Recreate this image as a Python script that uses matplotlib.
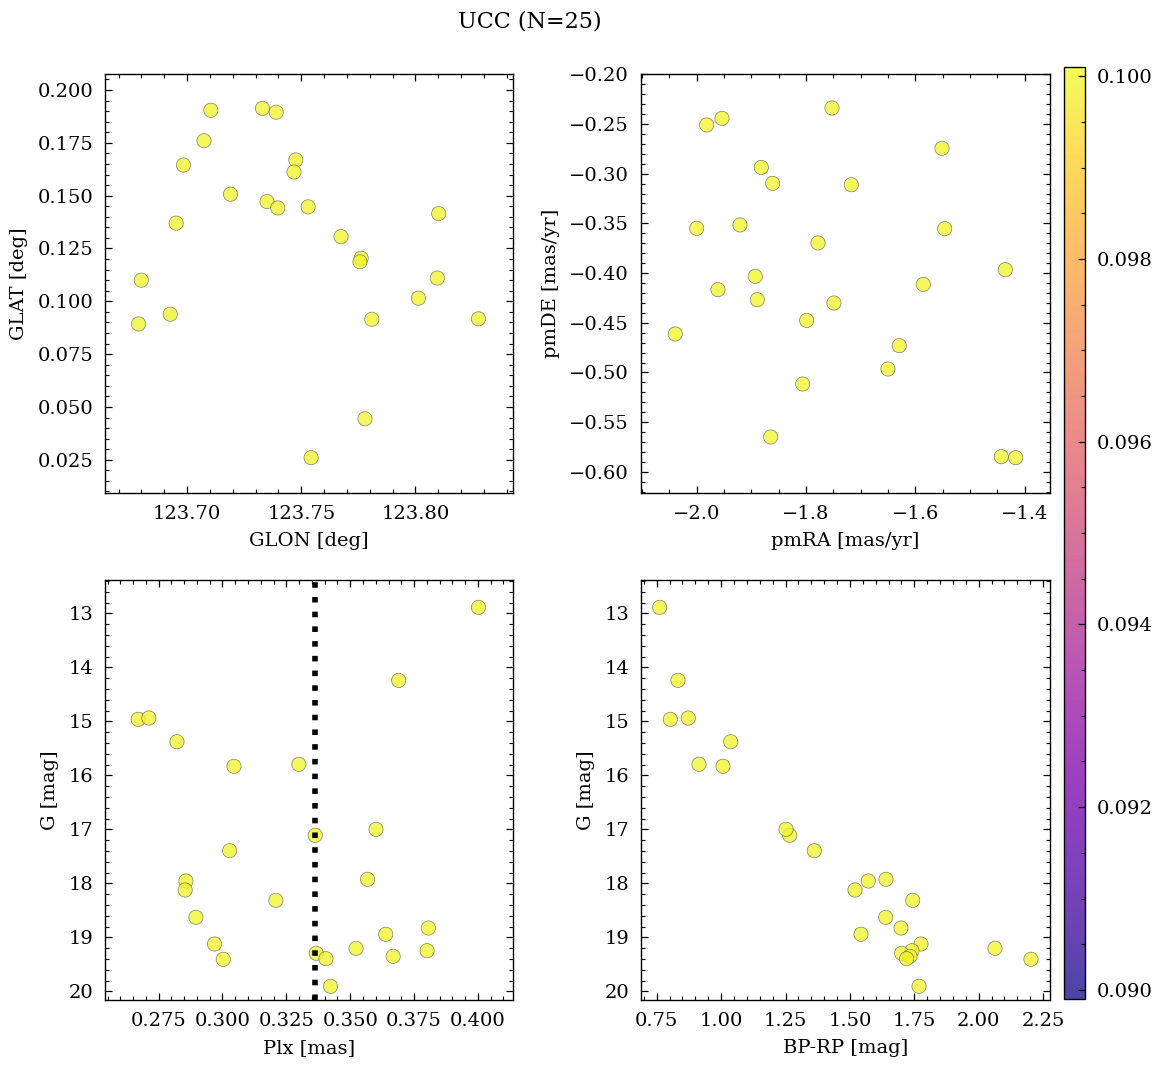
import numpy as np
import matplotlib.pyplot as plt
from matplotlib.ticker import MultipleLocator

# panel 1: galactic coordinates
glon = [123.7104, 123.7330, 123.7390, 123.7074, 123.6984, 123.7476, 123.7468,
        123.7190, 123.7350, 123.7397, 123.7530, 123.8102, 123.6952, 123.7674,
        123.7762, 123.7757, 123.6799, 123.8096, 123.8013, 123.6926, 123.6787,
        123.7809, 123.8276, 123.7779, 123.7543]
glat = [0.1904, 0.1913, 0.1895, 0.1760, 0.1645, 0.1669, 0.1612, 0.1507, 0.1472,
        0.1442, 0.1447, 0.1415, 0.1370, 0.1306, 0.1204, 0.1187, 0.1100, 0.1110,
        0.1015, 0.0939, 0.0893, 0.0915, 0.0917, 0.0444, 0.0260]

# panel 2: proper motions
pmra = [-1.7524, -1.9537, -1.9817, -1.5511, -1.8818, -1.8610, -1.7171, -2.0000,
        -1.9208, -1.5462, -1.7780, -1.4353, -1.5854, -1.8928, -1.9610, -1.8891,
        -1.7488, -1.7987, -2.0392, -1.6293, -1.6500, -1.8060, -1.8646, -1.4426,
        -1.4163]
pmde = [-0.2339, -0.2444, -0.2510, -0.2745, -0.2937, -0.3098, -0.3111, -0.3550,
        -0.3516, -0.3553, -0.3697, -0.3966, -0.4114, -0.4033, -0.4167, -0.4268,
        -0.4301, -0.4476, -0.4613, -0.4730, -0.4965, -0.5116, -0.5649, -0.5847,
        -0.5857]

# panels 3 and 4: photometry / parallax
gmag = [12.889, 14.241, 14.963, 14.939, 15.378, 15.833, 15.796, 17.111, 17.000,
        17.396, 17.926, 17.957, 18.124, 18.315, 18.630, 18.828, 18.944, 19.124,
        19.204, 19.248, 19.296, 19.352, 19.396, 19.407, 19.907]
plx = [0.4002, 0.3690, 0.2670, 0.2712, 0.2822, 0.3045, 0.3299, 0.3363, 0.3601,
       0.3028, 0.3568, 0.2857, 0.2854, 0.3209, 0.2896, 0.3806, 0.3639, 0.2969,
       0.3523, 0.3801, 0.3367, 0.3668, 0.3405, 0.3003, 0.3423]
bprp = [0.7616, 0.8327, 0.8028, 0.8727, 1.0373, 1.0074, 0.9142, 1.2663, 1.2520,
        1.3618, 1.6401, 1.5714, 1.5198, 1.7438, 1.6390, 1.6984, 1.5431, 1.7760,
        2.0633, 1.7410, 1.7010, 1.7333, 1.7200, 2.2030, 1.7683]

# membership probability (all the same)
prob = [0.1] * len(gmag)

plt.rcParams['font.family'] = 'DejaVu Serif'
plt.rcParams['font.size'] = 14
plt.rcParams['mathtext.fontset'] = 'dejavuserif'
for ax_ in ('xtick', 'ytick'):
    plt.rcParams[ax_ + '.direction'] = 'in'
    plt.rcParams[ax_ + '.minor.visible'] = True
    plt.rcParams[ax_ + '.major.size'] = 5
    plt.rcParams[ax_ + '.minor.size'] = 2.8
    plt.rcParams[ax_ + '.major.width'] = 0.9
    plt.rcParams[ax_ + '.minor.width'] = 0.8
    plt.rcParams[ax_ + '.major.pad'] = 8.5
plt.rcParams['xtick.top'] = True
plt.rcParams['ytick.right'] = True
plt.rcParams['axes.linewidth'] = 1.0
plt.rcParams['axes.labelpad'] = 6.5

fig = plt.figure(figsize=(11.61, 10.67), dpi=100)
ax1 = fig.add_axes([0.0904, 0.5380, 0.3514, 0.3927])
ax2 = fig.add_axes([0.5521, 0.5380, 0.3523, 0.3927])
ax3 = fig.add_axes([0.0904, 0.0628, 0.3514, 0.3936])
ax4 = fig.add_axes([0.5521, 0.0628, 0.3523, 0.3936])
cax = fig.add_axes([0.9164, 0.0637, 0.0185, 0.8735])

kw = dict(c=prob, cmap='plasma', vmin=0.0899, vmax=0.1001, s=105,
          alpha=0.75, edgecolors='#555555', linewidths=0.5)

sc = ax1.scatter(glon, glat, **kw)
ax1.set_xlabel('GLON [deg]')
ax1.set_ylabel('GLAT [deg]')
ax1.set_xlim(123.664, 123.8427)
ax1.set_ylim(0.0093, 0.2076)
ax1.xaxis.set_major_locator(MultipleLocator(0.05))
ax1.yaxis.set_major_locator(MultipleLocator(0.025))

ax2.scatter(pmra, pmde, **kw)
ax2.set_xlabel('pmRA [mas/yr]')
ax2.set_ylabel('pmDE [mas/yr]')
ax2.set_xlim(-2.1019, -1.3535)
ax2.set_ylim(-0.6212, -0.1997)
ax2.xaxis.set_major_locator(MultipleLocator(0.2))
ax2.yaxis.set_major_locator(MultipleLocator(0.05))

ax3.scatter(plx, gmag, **kw)
ax3.axvline(np.median(plx), color='k', ls=':', lw=4, zorder=5)
ax3.set_xlabel('Plx [mas]')
ax3.set_ylabel('G [mag]')
ax3.set_xlim(0.2540, 0.4137)
ax3.set_ylim(20.161, 12.383)
ax3.xaxis.set_major_locator(MultipleLocator(0.025))
ax3.yaxis.set_major_locator(MultipleLocator(1))

ax4.scatter(bprp, gmag, **kw)
ax4.set_xlabel('BP-RP [mag]')
ax4.set_ylabel('G [mag]')
ax4.set_xlim(0.689, 2.2768)
ax4.set_ylim(20.161, 12.383)
ax4.xaxis.set_major_locator(MultipleLocator(0.25))
ax4.yaxis.set_major_locator(MultipleLocator(1))

cb = fig.colorbar(sc, cax=cax)
cb.ax.tick_params(direction='in', which='both', pad=8)
cb.ax.minorticks_on()

fig.suptitle('UCC (N=25)', x=0.456, y=0.99, fontsize=16)

plt.savefig('out.png', dpi=100)
